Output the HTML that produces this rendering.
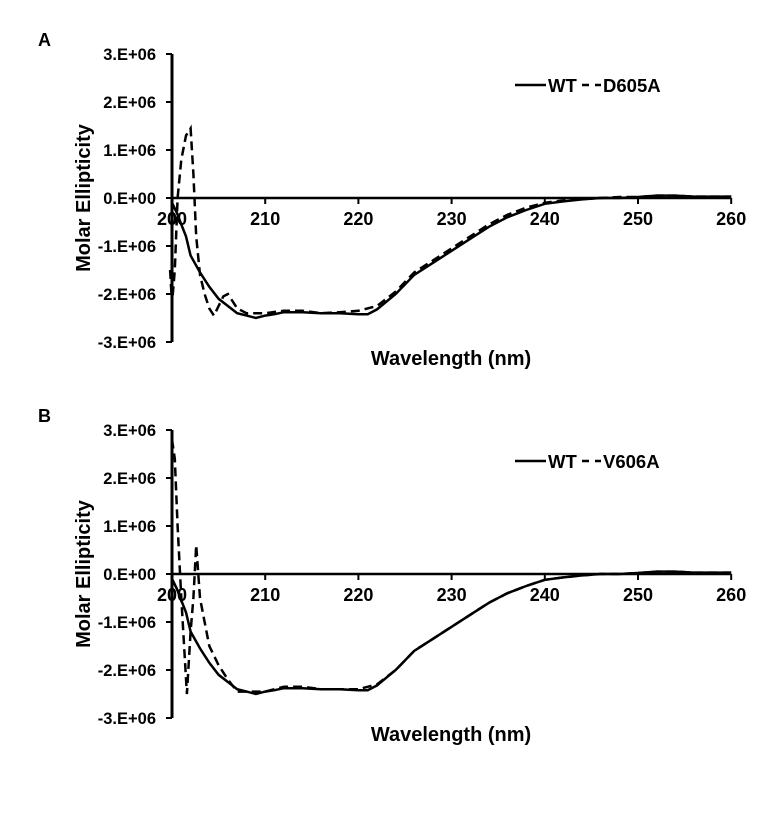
<!DOCTYPE html>
<html><head><meta charset="utf-8"><style>
html,body{margin:0;padding:0;background:#fff;}
svg text{font-family:"Liberation Sans",Arial,sans-serif;font-weight:bold;fill:#000;}
</style></head><body>
<svg id="chart" width="779" height="819" viewBox="0 0 779 819" xmlns="http://www.w3.org/2000/svg"></svg>
<script>
const xTicks=[200,210,220,230,240,250,260];
const yTicks=[3,2,1,0,-1,-2,-3];
const yTickLabels=["3.E+06","2.E+06","1.E+06","0.E+00","-1.E+06","-2.E+06","-3.E+06"];
const wtX=[200,200.5,201,201.5,202,203,204,205,206,207,208,209,210,211,212,214,216,218,220,221,222,224,226,228,230,232,234,236,238,240,242,244,246,248,250,252,254,256,258,260];
const wtY=[-0.1,-0.3,-0.55,-0.8,-1.2,-1.55,-1.85,-2.1,-2.25,-2.4,-2.45,-2.5,-2.45,-2.42,-2.38,-2.38,-2.4,-2.4,-2.42,-2.42,-2.32,-2.0,-1.6,-1.35,-1.1,-0.85,-0.6,-0.4,-0.25,-0.12,-0.07,-0.03,0,0,0.02,0.05,0.05,0.03,0.03,0.03];
const d605X=[199.8,200,200.3,200.6,201,201.5,202,202.3,202.6,203,203.5,204,204.5,205,205.5,206,207,208,210,212,214,216,218,220,222,224,226,228,230,232,234,236,238,240,242,244,246,248,250,252,254,256,258,260];
const d605Y=[-1.5,-2.2,-1.5,0,0.8,1.3,1.45,0.5,-0.8,-1.6,-2.0,-2.3,-2.45,-2.25,-2.05,-2.0,-2.3,-2.4,-2.4,-2.35,-2.35,-2.4,-2.38,-2.35,-2.25,-1.95,-1.55,-1.3,-1.05,-0.8,-0.55,-0.35,-0.2,-0.1,-0.05,-0.02,0,0.02,0.02,0.05,0.05,0.03,0.03,0.03];
const v606X=[200,200.3,200.6,201,201.3,201.6,202,202.3,202.6,203,203.5,204,205,206,207,208,210,212,214,216,218,220,222,224,226,228,230,232,234,236,238,240,242,244,246,248,250,252,254,256,258,260];
const v606Y=[2.8,2.4,1.0,-0.5,-1.5,-2.5,-1.2,-0.5,0.6,-0.5,-1.0,-1.5,-1.9,-2.2,-2.45,-2.45,-2.45,-2.35,-2.35,-2.4,-2.4,-2.4,-2.3,-2.0,-1.6,-1.35,-1.1,-0.85,-0.6,-0.4,-0.25,-0.12,-0.07,-0.03,0,0,0.02,0.05,0.05,0.03,0.03,0.03];

const svg=document.getElementById('chart');
const NS='http://www.w3.org/2000/svg';
function mk(tag,attrs,parent){const e=document.createElementNS(NS,tag);for(const k in attrs)e.setAttribute(k,attrs[k]);(parent||svg).appendChild(e);return e;}
function panel(label,oy,mutX,mutY,mutName){
  const g=mk('g',{});
  
  
  const xs=v=>172+(v-200)*9.32;
  const ys=v=>oy+144-v*48;
  const t=mk('text',{x:38,y:oy-8,'font-size':18},g);t.textContent=label;
  
  
  const ya=mk('line',{x1:172,x2:172,y1:ys(3),y2:ys(-3),stroke:'#000','stroke-width':3},g);
  
  
  yTicks.forEach((v,i)=>{
    mk('line',{x1:166,x2:172,y1:ys(v),y2:ys(v),stroke:'#000','stroke-width':2},g);
    const tx=mk('text',{x:156,y:ys(v)+6,'font-size':16.5,'text-anchor':'end'},g);tx.textContent=yTickLabels[i];
    
    
  });
  const xa=mk('line',{x1:172,x2:xs(260),y1:ys(0),y2:ys(0),stroke:'#000','stroke-width':2.5},g);
  
  
  xTicks.forEach(v=>{
    mk('line',{x1:xs(v),x2:xs(v),y1:ys(0),y2:ys(0)+6,stroke:'#000','stroke-width':2},g);
    const tx=mk('text',{x:xs(v),y:ys(0)+27,'font-size':18,'text-anchor':'middle'},g);tx.textContent=v;
    
    
  });
  const yl=mk('text',{x:0,y:0,'font-size':20,'text-anchor':'middle',transform:`translate(90,${ys(0)}) rotate(-90)`},g);yl.textContent='Molar Ellipticity';
  
  
  const xl=mk('text',{x:451,y:ys(-3)+23,'font-size':20,'text-anchor':'middle'},g);xl.textContent='Wavelength (nm)';
  
  
  const pts=(X,Y)=>X.map((x,i)=>xs(x).toFixed(1)+','+ys(Y[i]).toFixed(1)).join(' ');
  const wt=mk('polyline',{points:pts(wtX,wtY),fill:'none',stroke:'#000','stroke-width':2.5},g);
  
  
  const mu=mk('polyline',{points:pts(mutX,mutY),fill:'none',stroke:'#000','stroke-width':2.5,'stroke-dasharray':'9,5'},g);
  
  
  const ly=oy+31;
  mk('line',{x1:515,x2:546,y1:ly,y2:ly,stroke:'#000','stroke-width':2.5},g);
  const l1=mk('text',{x:548,y:ly+7,'font-size':18.5},g);l1.textContent='WT';
  
  
  mk('line',{x1:582,x2:601,y1:ly,y2:ly,stroke:'#000','stroke-width':2.5,'stroke-dasharray':'7,6'},g);
  const l2=mk('text',{x:603,y:ly+7,'font-size':18.5},g);l2.textContent=mutName;
  
  
}
panel('A',54,d605X,d605Y,'D605A');
panel('B',430,v606X,v606Y,'V606A');
</script>
</body></html>
